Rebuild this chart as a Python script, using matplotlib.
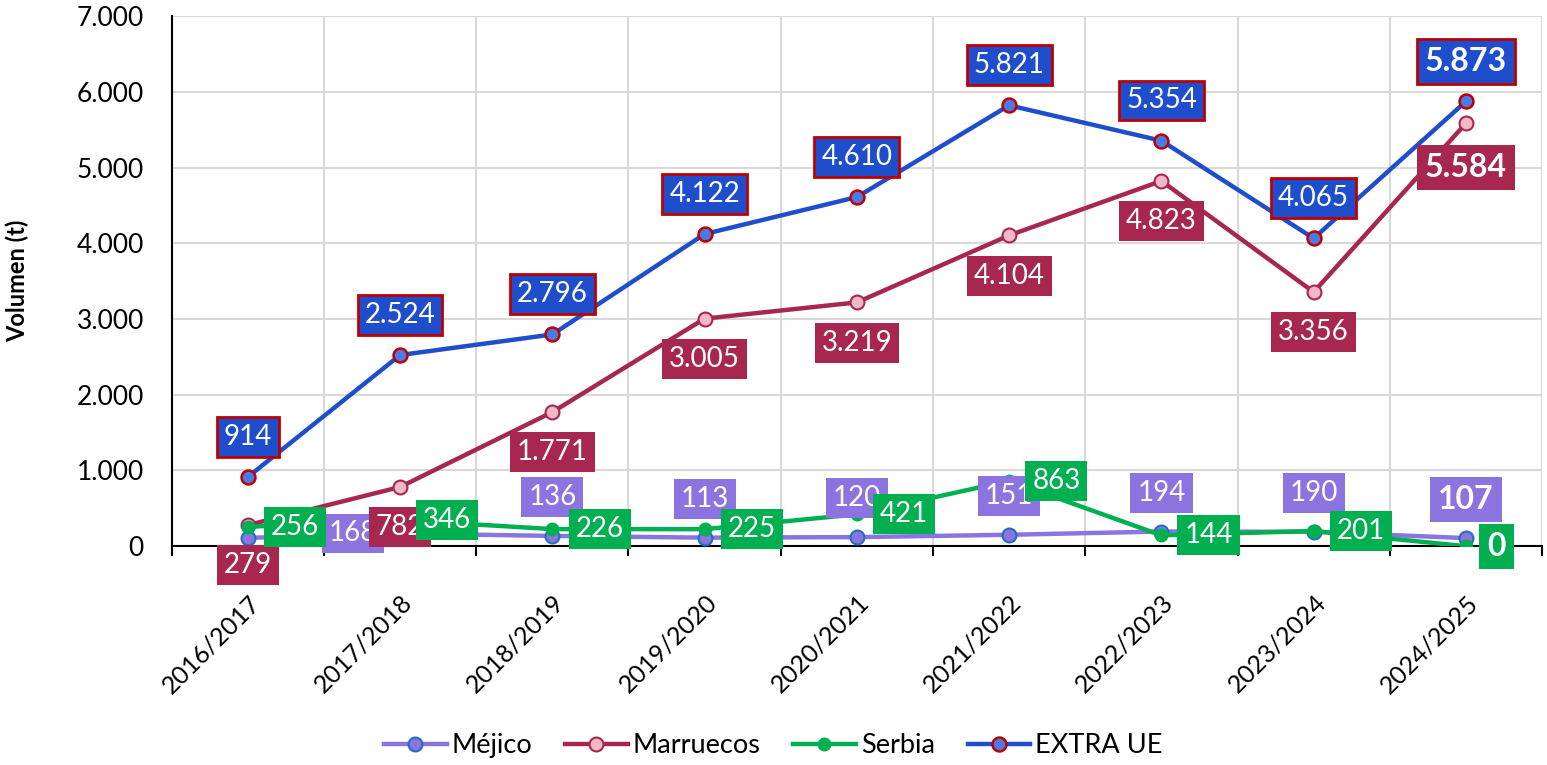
import numpy as np
import matplotlib
matplotlib.use("Agg")
import matplotlib.pyplot as plt
from matplotlib.ticker import FuncFormatter, MultipleLocator, FixedLocator

plt.rcParams['font.family'] = ['Lato', 'DejaVu Sans']

# campaigns
seasons = ["2016/2017", "2017/2018", "2018/2019", "2019/2020", "2020/2021",
           "2021/2022", "2022/2023", "2023/2024", "2024/2025"]

# volumes (t)
mejico = [110, 168, 136, 113, 120, 151, 194, 190, 107]
marruecos = [279, 782, 1771, 3005, 3219, 4104, 4823, 3356, 5584]
serbia = [256, 346, 226, 225, 421, 863, 144, 201, 0]
extra_ue = [914, 2524, 2796, 4122, 4610, 5821, 5354, 4065, 5873]


def fmt(v):
    return f"{int(round(v)):,}".replace(",", ".")


x = np.arange(len(seasons))

fig = plt.figure(figsize=(15.47, 7.65), dpi=100)
ax = fig.add_axes([0.111, 0.286, 0.8858, 0.693])

# colours
c_mex, c_mex_edge = '#8B74E0', '#1F6FC0'
c_mar, c_mar_face = '#A8274E', '#F2B8C8'
c_ser = '#00B050'
c_ext, c_ext_face, c_red = '#1F4ECC', '#4A7BE5', '#C00000'

ax.plot(x, mejico, color=c_mex, lw=3.2, marker='o', ms=10,
        mfc=c_mex, mec=c_mex_edge, mew=1.5, label='Méjico', zorder=3)
ax.plot(x, marruecos, color=c_mar, lw=3.2, marker='o', ms=10,
        mfc=c_mar_face, mec=c_mar, mew=1.5, label='Marruecos', zorder=4)
ax.plot(x, serbia, color=c_ser, lw=3.2, marker='o', ms=9,
        mfc=c_ser, mec=c_ser, label='Serbia', zorder=5)
ax.plot(x, extra_ue, color=c_ext, lw=3.2, marker='o', ms=10,
        mfc=c_ext_face, mec=c_red, mew=1.8, label='EXTRA UE', zorder=6)


def label(xi, v, dx, dy, fc, ec=None, big=False, z=7):
    ax.annotate(fmt(v), (xi, v), xytext=(dx, dy), textcoords='offset points',
                ha='center', va='center', color='white',
                fontsize=23 if big else 20, fontweight='bold' if big else 'normal',
                bbox=dict(boxstyle='square,pad=0.25', fc=fc,
                          ec=ec if ec else fc, lw=2 if ec else 0),
                zorder=z, annotation_clip=False)


# Méjico labels (above)
for i, v in enumerate(mejico):
    if i == 0:
        continue
    if i == 1:
        label(i, v, -34, 0, c_mex, z=7)
    else:
        label(i, v, 0, 28, c_mex, big=(i == 8), z=7)

# Marruecos labels (below)
for i, v in enumerate(marruecos):
    label(i, v, 0, -29 if i < 8 else -32, c_mar, big=(i == 8), z=8)

# Serbia labels (right)
for i, v in enumerate(serbia):
    label(i, v, 34 if i < 8 else 22, 0, c_ser, big=(i == 8), z=9)

# EXTRA UE labels (above)
for i, v in enumerate(extra_ue):
    label(i, v, 0, 29, c_ext, ec=c_red, big=(i == 8), z=10)

ax.set_xlim(-0.5, len(seasons) - 0.5)
ax.set_ylim(0, 7000)
ax.yaxis.set_major_locator(MultipleLocator(1000))
ax.yaxis.set_major_formatter(FuncFormatter(lambda v, p: fmt(v)))
ax.tick_params(axis='y', labelsize=19, length=0, pad=20)

ax.set_xticks(x)
ax.set_xticklabels(seasons, rotation=45, ha='right', rotation_mode='anchor', fontsize=18)
ax.tick_params(axis='x', which='major', length=0, pad=32)
ax.xaxis.set_minor_locator(FixedLocator(np.arange(-0.5, len(seasons), 1.0)))
ax.tick_params(axis='x', which='minor', length=7, width=1.5, direction='out', color='black')

ax.grid(axis='y', color='#D9D9D9', lw=1.5)
ax.grid(axis='x', which='minor', color='#D9D9D9', lw=1.5)
ax.set_axisbelow(True)

for s in ['top', 'right']:
    ax.spines[s].set_visible(False)
ax.spines['left'].set_linewidth(1.5)
ax.spines['bottom'].set_linewidth(1.5)

ax.set_ylabel('Volumen (t)', fontsize=17, fontweight='bold')
ax.yaxis.set_label_coords(-0.104, 0.5)

fig.legend(loc='center', bbox_to_anchor=(0.5, 0.025), ncol=4, frameon=False,
           fontsize=19.5, handlelength=2.3, columnspacing=1.2, handletextpad=0.2)

fig.savefig('out.png', dpi=100)
